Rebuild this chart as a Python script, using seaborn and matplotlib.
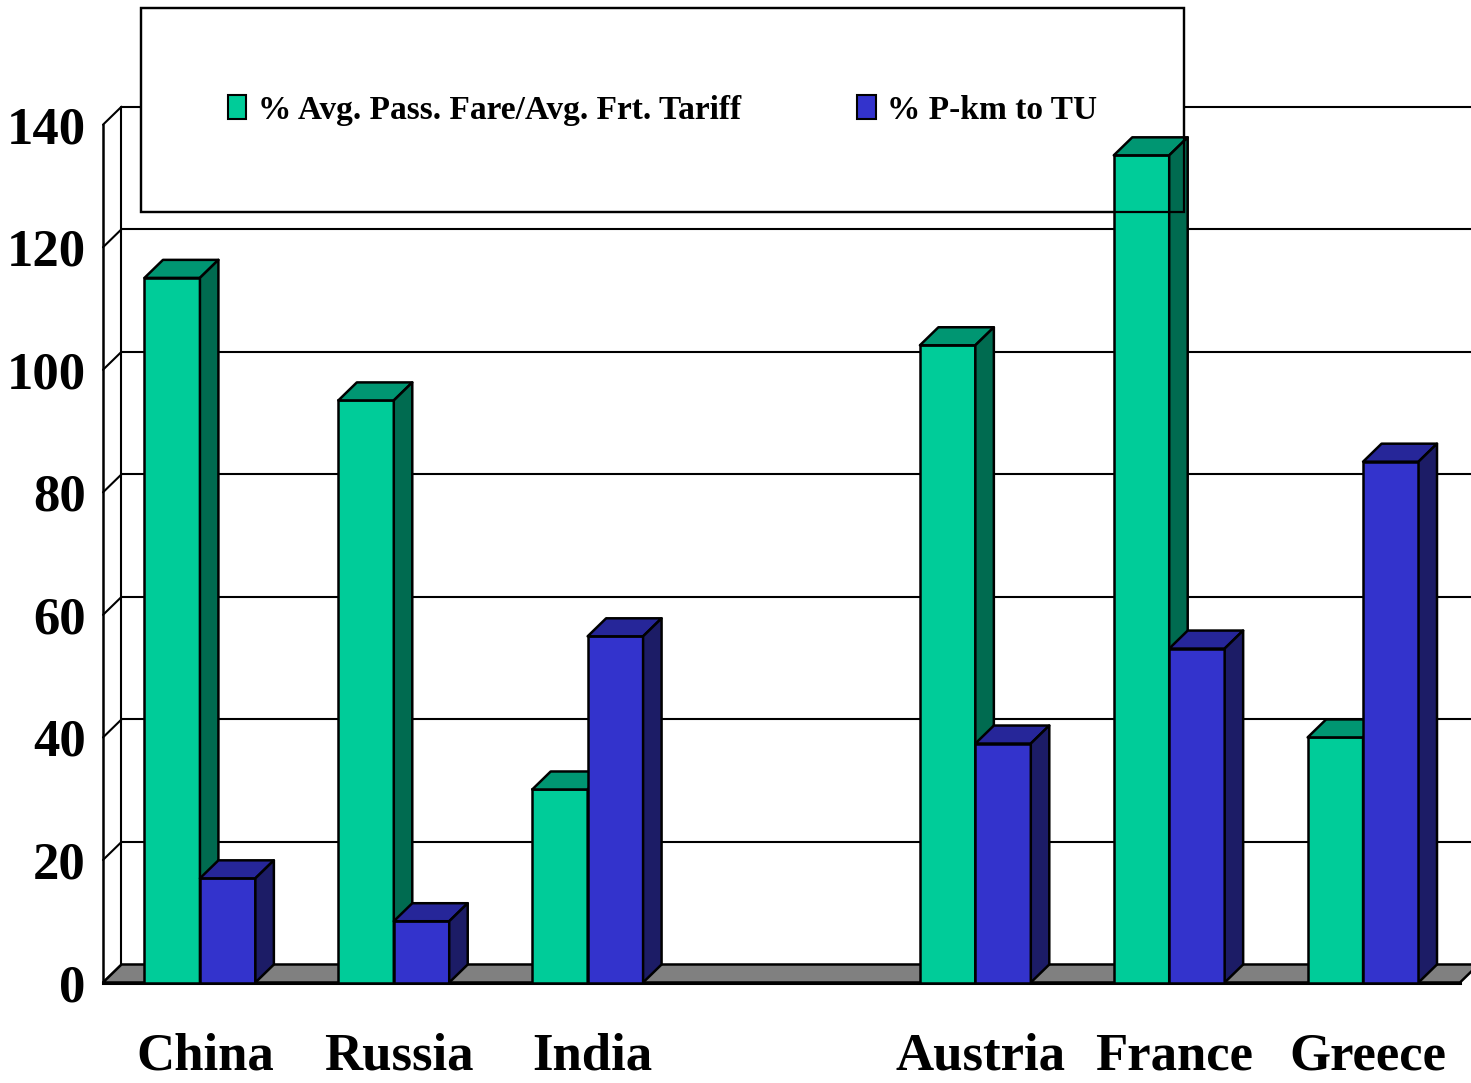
import matplotlib
matplotlib.use("Agg")
import numpy as np
import pandas as pd
import matplotlib.pyplot as plt
from matplotlib.patches import Polygon, Rectangle, Patch
from matplotlib.transforms import IdentityTransform, ScaledTranslation
import seaborn as sns

# ---- data -------------------------------------------------------------
categories = ["China", "Russia", "India", " ", "Austria", "France", "Greece"]
fare_ratio = [115, 95, 31.5, None, 104, 135, 40]      # % Avg. Pass. Fare / Avg. Frt. Tariff
pkm_share = [17, 10, 56.5, None, 39, 54.5, 85]         # % P-km to TU
series = ["% Avg. Pass. Fare/Avg. Frt. Tariff", "% P-km to TU"]
y_ticks = [0, 20, 40, 60, 80, 100, 120, 140]

# ---- styling ----------------------------------------------------------
front_colors = ["#00CC99", "#3333CC"]
top_colors = ["#009672", "#262699"]
side_colors = ["#006B50", "#1C1C66"]
DX, DY = 0.0954, 2.94          # depth offset of the pseudo-3D boxes (data units)
EDGE = 1.8

rows = []
for cat, a, b in zip(categories, fare_ratio, pkm_share):
    if a is not None:
        rows.append({"Country": cat, "Series": series[0], "Value": a})
    if b is not None:
        rows.append({"Country": cat, "Series": series[1], "Value": b})
df = pd.DataFrame(rows)

sns.set_style("white")
plt.rcParams["font.family"] = ["Liberation Serif", "DejaVu Serif"]
plt.rcParams["font.weight"] = "bold"
plt.rcParams["text.color"] = "black"
plt.rcParams["axes.edgecolor"] = "black"
plt.rcParams["xtick.color"] = "black"
plt.rcParams["ytick.color"] = "black"

fig = plt.figure(figsize=(14.71, 10.83), dpi=100)
ax = fig.add_axes([103 / 1471, 100.5 / 1083, 1357 / 1471, 857.8 / 1083])

sns.barplot(data=df, x="Country", y="Value", hue="Series",
            order=categories, hue_order=series, palette=front_colors,
            saturation=1, width=0.572, edgecolor="black", linewidth=EDGE,
            errorbar=None, legend=False, ax=ax)

ax.set_xlim(-0.5, 6.5)
ax.set_ylim(0, 140)
ax.set_xlabel("")
ax.set_ylabel("")

# top and side faces for each bar
for i, cont in enumerate(ax.containers):
    base_z = 3 + i
    for bar in cont:
        x, w, h = bar.get_x(), bar.get_width(), bar.get_height()
        if not np.isfinite(h) or h <= 0:
            continue
        bar.set_zorder(base_z)
        top = Polygon([(x, h), (x + w, h), (x + w + DX, h + DY), (x + DX, h + DY)],
                      closed=True, facecolor=top_colors[i], edgecolor="black",
                      linewidth=EDGE, joinstyle="round", zorder=base_z + 0.1, clip_on=False)
        side = Polygon([(x + w, 0), (x + w + DX, DY), (x + w + DX, h + DY), (x + w, h)],
                       closed=True, facecolor=side_colors[i], edgecolor="black",
                       linewidth=EDGE, joinstyle="round", zorder=base_z + 0.1, clip_on=False)
        ax.add_patch(top)
        ax.add_patch(side)

# floor
floor = Polygon([(-0.5, 0), (6.5, 0), (6.5 + DX, DY), (-0.5 + DX, DY)], closed=True,
                facecolor="#808080", edgecolor="black", linewidth=EDGE, zorder=2, clip_on=False)
ax.add_patch(floor)

# back wall gridlines and left wall
for v in y_ticks:
    if v > 0:
        ax.plot([-0.5 + DX, 7.0], [v + DY, v + DY], color="black", lw=1.5,
                zorder=1, clip_on=False, solid_capstyle="butt")
    ax.plot([-0.5, -0.5 + DX], [v, v + DY], color="black", lw=1.5, zorder=1, clip_on=False)
ax.plot([-0.5 + DX, -0.5 + DX], [DY, 140 + DY], color="black", lw=1.5, zorder=1, clip_on=False)

# axes
for s in ("top", "right"):
    ax.spines[s].set_visible(False)
ax.spines["left"].set_linewidth(1.8)
ax.spines["bottom"].set_linewidth(2.2)
ax.spines["left"].set_color("black")
ax.spines["bottom"].set_color("black")
ax.spines["left"].set_zorder(1.5)
ax.spines["bottom"].set_zorder(2.2)

ax.set_yticks(y_ticks)
ax.set_yticklabels([str(v) for v in y_ticks])
ax.tick_params(axis="y", direction="out", length=7.5, width=1.5, pad=5,
               labelsize=38, colors="black")
ax.set_xticks(range(len(categories)))
ax.set_xticklabels(categories)
ax.set_xticks(np.arange(-0.5, len(categories)), minor=True)
ax.tick_params(axis="x", which="major", length=0, pad=36, labelsize=38, colors="black")
ax.tick_params(axis="x", which="minor", direction="out", length=8, width=1.5, colors="black")
for lab in ax.get_xticklabels() + ax.get_yticklabels():
    lab.set_fontweight("bold")
    lab.set_color("black")
# nudge category names slightly to the right
shift = ScaledTranslation(5 / 100, 0, fig.dpi_scale_trans)
for lab in ax.get_xticklabels():
    lab.set_transform(lab.get_transform() + shift)

# legend
handles = [Patch(facecolor=c, edgecolor="black", linewidth=1.5) for c in front_colors]
leg = ax.legend(handles, series, loc="upper left",
                bbox_to_anchor=(141 / 1471, 1 - 8 / 1083), bbox_transform=fig.transFigure,
                ncol=2, frameon=True, fancybox=False, edgecolor="black", facecolor="white",
                framealpha=1, borderpad=2.6, borderaxespad=0, handlelength=0.55,
                handleheight=0.72, handletextpad=0.35, columnspacing=3.5,
                labelcolor="black",
                prop={"family": ["Liberation Serif"], "weight": "bold", "size": 24})
leg.get_frame().set_linewidth(1.6)
leg.set_zorder(2.5)

# legend outline drawn above the bars
fig.canvas.draw()
bb = leg.get_frame().get_window_extent(fig.canvas.get_renderer())
outline = Rectangle((bb.x0, bb.y0), bb.width, bb.height, fill=False, edgecolor="black",
                    linewidth=1.6, transform=IdentityTransform(), zorder=10)
fig.add_artist(outline)

fig.savefig("out.png", dpi=100)
